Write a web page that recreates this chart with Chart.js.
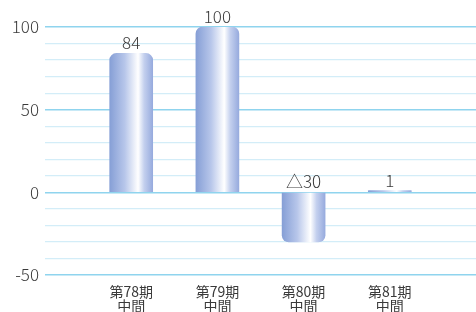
<!DOCTYPE html>
<html>
<head>
<meta charset="utf-8">
<script src="https://cdn.jsdelivr.net/npm/chart.js@4"></script>
<style>
    html, body { margin: 0; padding: 0; background: #fff; }
    #wrap { width: 476px; height: 312px; }
</style>
</head>
<body>
<div id="wrap"><canvas id="chart" width="476" height="312"></canvas></div>
<script>
// empty slots at both ends keep the bars where the original puts them
const categories = ['', ['第78期', '中間'], ['第79期', '中間'], ['第80期', '中間'], ['第81期', '中間'], ''];
const values = [null, 84, 100, -30, 1, null];
const valueLabels = ['', '84', '100', '△30', '1', ''];
const yTicks = [100, 50, 0, -50];

const FONT = '"Noto Sans CJK JP", "Noto Sans", sans-serif';
const BAR_W = 43;

function barGradient(ctx) {
    const chart = ctx.chart;
    if (!chart.chartArea || !chart.scales.x) return '#9fb2e0';
    const cx = chart.scales.x.getPixelForValue(ctx.dataIndex);
    if (!isFinite(cx)) return '#9fb2e0';
    const g = chart.ctx.createLinearGradient(cx - BAR_W / 2, 0, cx + BAR_W / 2, 0);
    g.addColorStop(0, '#869fd6');
    g.addColorStop(0.35, '#b7c6ea');
    g.addColorStop(0.66, '#ffffff');
    g.addColorStop(0.8, '#c4d0ee');
    g.addColorStop(1, '#97abde');
    return g;
}

const valueLabelPlugin = {
    id: 'valueLabels',
    afterDatasetsDraw: function(chart) {
        const ctx = chart.ctx;
        const meta = chart.getDatasetMeta(0);
        const zeroY = chart.scales.y.getPixelForValue(0);
        ctx.save();
        ctx.font = '300 17px ' + FONT;
        ctx.fillStyle = '#3a3a3a';
        ctx.textAlign = 'center';
        ctx.textBaseline = 'alphabetic';
        meta.data.forEach(function(bar, i) {
            if (values[i] === null) return;
            const top = Math.min(bar.y, zeroY);
            ctx.fillText(valueLabels[i], bar.x, top - 4);
        });
        ctx.restore();
    }
};

new Chart(document.getElementById('chart').getContext('2d'), {
    type: 'bar',
    data: {
        labels: categories,
        datasets: [{
            data: values,
            backgroundColor: barGradient,
            borderWidth: 0,
            borderRadius: 7,
            borderSkipped: 'start',
            barThickness: BAR_W
        }]
    },
    options: {
        responsive: false,
        animation: false,
        layout: { padding: { top: 27, right: 0, left: 0, bottom: 0 } },
        plugins: {
            legend: { display: false },
            tooltip: { enabled: false }
        },
        scales: {
            x: {
                offset: false,
                grid: { display: false },
                border: { display: false },
                afterFit: function(axis) {
                    axis.paddingLeft = 0;
                    axis.paddingRight = 0;
                    axis.height = 37;
                },
                ticks: {
                    color: '#3a3a3a',
                    font: { family: FONT, size: 14, lineHeight: 1.0 },
                    maxRotation: 0,
                    autoSkip: false,
                    padding: 2
                }
            },
            y: {
                min: -50,
                max: 100,
                afterBuildTicks: function(axis) {
                    const t = [];
                    for (let v = -50; v <= 100; v += 10) t.push({ value: v });
                    axis.ticks = t;
                },
                afterFit: function(axis) { axis.width = 45; },
                border: { display: false },
                grid: {
                    drawTicks: false,
                    lineWidth: function(c) { return yTicks.includes(c.tick.value) ? 1.5 : 1.2; },
                    color: function(c) { return yTicks.includes(c.tick.value) ? '#8fd4ee' : '#d3edf8'; }
                },
                ticks: {
                    color: '#3a3a3a',
                    padding: 6,
                    autoSkip: false,
                    font: { family: FONT, size: 17, weight: 300 },
                    callback: function(v) { return yTicks.includes(v) ? String(v) : ''; }
                }
            }
        }
    },
    plugins: [valueLabelPlugin]
});
</script>
</body>
</html>
